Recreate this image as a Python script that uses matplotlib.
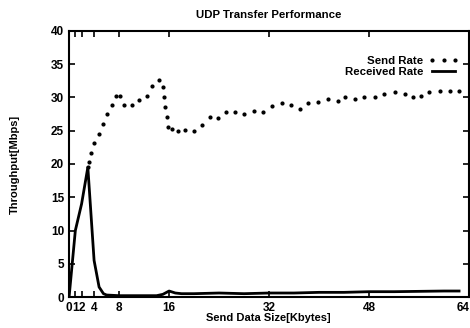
import matplotlib
matplotlib.use('Agg')
import matplotlib.pyplot as plt
from matplotlib.transforms import ScaledTranslation

plt.rcParams['font.family'] = ['Liberation Sans', 'DejaVu Sans']

# Send rate samples (KB, Mbps)
send_x = [3.0, 3.2, 3.5, 4.05, 4.85, 5.5, 6.1, 6.8, 7.5, 8.2, 8.75, 10.0, 11.2,
          12.4, 13.3, 14.4, 15.0, 15.2, 15.4, 15.6, 15.8, 16.4, 17.5, 18.6,
          20.0, 21.3, 22.5, 23.8, 25.1, 26.5, 28.0, 29.6, 31.0, 32.4, 34.0,
          35.5, 36.9, 38.2, 39.9, 41.5, 43.0, 44.2, 45.7, 47.2, 48.9, 50.4,
          52.1, 53.7, 55.1, 56.3, 57.6, 59.3, 60.9, 62.4]
send_y = [19.5, 20.3, 21.7, 23.2, 24.5, 26.0, 27.5, 28.8, 30.2, 30.2, 28.8,
          28.8, 29.6, 30.3, 31.7, 32.7, 31.6, 30.0, 28.5, 27.0, 25.5, 25.3,
          24.9, 25.1, 25.0, 25.9, 27.0, 26.9, 27.8, 27.8, 27.5, 28.0, 27.8,
          28.7, 29.2, 28.9, 28.2, 29.1, 29.3, 29.8, 29.4, 30.1, 29.8, 30.1,
          30.1, 30.6, 30.8, 30.6, 30.1, 30.3, 30.9, 31.0, 31.0, 31.0]

# Received rate samples
recv_x = [0, 1, 2, 3, 4, 4.8, 5.5, 6, 8, 10, 12, 14, 15, 16, 17, 18, 20,
          24, 28, 32, 36, 40, 44, 48, 52, 56, 60, 62.4]
recv_y = [0, 10, 14, 19.5, 5.5, 1.5, 0.5, 0.3, 0.2, 0.2, 0.2, 0.2, 0.4, 0.9,
          0.6, 0.5, 0.5, 0.6, 0.5, 0.6, 0.6, 0.7, 0.7, 0.8, 0.8, 0.85, 0.9, 0.9]

xticks = [0, 1, 2, 4, 8, 16, 32, 48, 64]
yticks = [0, 5, 10, 15, 20, 25, 30, 35, 40]

fig = plt.figure(figsize=(4.7, 3.28), dpi=100)
ax = fig.add_axes([0.147, 0.0945, 0.851, 0.811])

ax.plot(send_x, send_y, linestyle='none', marker='o', markersize=2.0,
        color='black', label='Send Rate')
ax.plot(recv_x, recv_y, color='black', linewidth=2, label='Received Rate')

ax.set_xlim(0, 64)
ax.set_ylim(0, 40)
ax.set_xticks(xticks)
ax.set_yticks(yticks)
ax.tick_params(direction='in', length=4, width=1.2, top=True, right=True,
               labelsize=8.5, pad=3.5)
for lab in ax.get_xticklabels() + ax.get_yticklabels():
    lab.set_fontweight('bold')
# the last x label sits on the figure edge, nudge it inwards
last = ax.get_xticklabels()[-1]
last.set_transform(last.get_transform() + ScaledTranslation(-4 / 72, 0, fig.dpi_scale_trans))
for sp in ax.spines.values():
    sp.set_linewidth(1.5)

ax.set_title('UDP Transfer Performance', fontsize=8.2, fontweight='bold', pad=9)
ax.set_xlabel('Send Data Size[Kbytes]', fontsize=8, fontweight='bold')
ax.set_ylabel('Throughput[Mbps]', fontsize=8, fontweight='bold')
ax.xaxis.set_label_coords(0.4975, -0.062)
ax.yaxis.set_label_coords(-0.122, 0.5)

leg = ax.legend(loc='upper right', bbox_to_anchor=(0.985, 0.925), frameon=False,
                markerfirst=False, numpoints=3, fontsize=8.2, handlelength=2.6,
                handletextpad=0.5, labelspacing=0.1, borderaxespad=0)
for t in leg.get_texts():
    t.set_fontweight('bold')
    t.set_ha('right')

fig.savefig('out.png', dpi=100)
